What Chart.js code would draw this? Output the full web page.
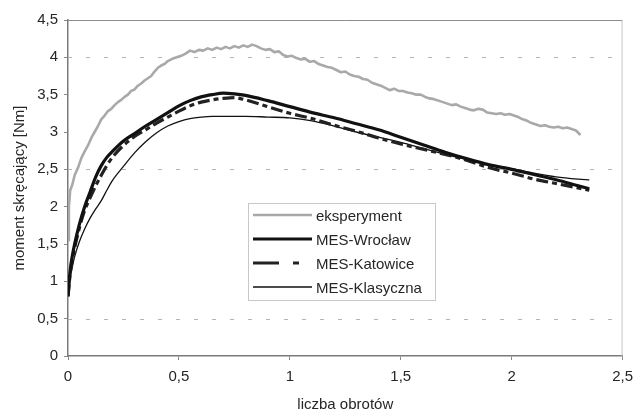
<!DOCTYPE html>
<html lang="pl">
<head>
<meta charset="utf-8">
<title>Moment skręcający</title>
<script src="https://cdn.jsdelivr.net/npm/chart.js@4/dist/chart.umd.min.js"></script>
<style>
  html, body { margin: 0; padding: 0; background: #ffffff; }
  #wrap { width: 641px; height: 414px; }
</style>
</head>
<body>
<div id="wrap"><canvas id="c" width="641" height="414"></canvas></div>
<script>
// Measured torque: number of revolutions vs. torque [Nm]
const eksperymentX = [0, 0.004, 0.01, 0.02, 0.03, 0.045, 0.06, 0.075, 0.09, 0.105, 0.12, 0.135, 0.15, 0.165, 0.18, 0.195,
  0.21, 0.225, 0.24, 0.255, 0.27, 0.285, 0.30, 0.315, 0.33, 0.345, 0.36, 0.375, 0.39, 0.405, 0.42, 0.435, 0.45, 0.47, 0.49,
  0.51, 0.53, 0.55, 0.57, 0.59, 0.61, 0.63, 0.65, 0.67, 0.69, 0.71, 0.73, 0.75, 0.77, 0.79, 0.81, 0.83, 0.85, 0.87, 0.89,
  0.91, 0.93, 0.95, 0.97, 0.99, 1.01, 1.03, 1.05, 1.07, 1.09, 1.11, 1.13, 1.15, 1.17, 1.19, 1.21, 1.23, 1.25, 1.27, 1.29,
  1.31, 1.33, 1.35, 1.37, 1.39, 1.41, 1.43, 1.45, 1.47, 1.49, 1.51, 1.53, 1.55, 1.57, 1.59, 1.61, 1.63, 1.65, 1.67, 1.69,
  1.71, 1.73, 1.75, 1.77, 1.79, 1.81, 1.83, 1.85, 1.87, 1.89, 1.91, 1.93, 1.95, 1.97, 1.99, 2.01, 2.03, 2.05, 2.07, 2.09,
  2.11, 2.13, 2.15, 2.17, 2.19, 2.21, 2.23, 2.25, 2.27, 2.29, 2.31];
const eksperymentY = [1.55, 2.0, 2.22, 2.3, 2.42, 2.52, 2.65, 2.74, 2.82, 2.92, 3.0, 3.08, 3.17, 3.22, 3.28, 3.31,
  3.36, 3.40, 3.43, 3.47, 3.5, 3.55, 3.57, 3.62, 3.65, 3.69, 3.72, 3.75, 3.81, 3.86, 3.89, 3.91, 3.95, 3.98, 4.0,
  4.02, 4.05, 4.09, 4.07, 4.1, 4.09, 4.12, 4.10, 4.13, 4.11, 4.14, 4.12, 4.15, 4.13, 4.16, 4.14, 4.17, 4.15, 4.12, 4.10,
  4.11, 4.07, 4.08, 4.03, 4.01, 4.02, 3.99, 3.97, 3.98, 3.94, 3.95, 3.91, 3.89, 3.87, 3.86, 3.83, 3.80, 3.81, 3.77, 3.75,
  3.74, 3.71, 3.70, 3.66, 3.64, 3.62, 3.59, 3.56, 3.58, 3.55, 3.55, 3.53, 3.52, 3.50, 3.50, 3.47, 3.45, 3.44, 3.42, 3.40,
  3.38, 3.36, 3.37, 3.34, 3.32, 3.30, 3.29, 3.31, 3.30, 3.26, 3.25, 3.24, 3.25, 3.23, 3.24, 3.22, 3.20, 3.17, 3.15, 3.12,
  3.10, 3.08, 3.09, 3.07, 3.06, 3.07, 3.05, 3.06, 3.04, 3.02, 2.96];

// FEM results share one revolution grid
const modelX = [0, 0.01, 0.02, 0.03, 0.05, 0.075, 0.1, 0.125, 0.15, 0.175, 0.2, 0.25, 0.3, 0.35, 0.4, 0.45, 0.5, 0.55,
  0.6, 0.65, 0.7, 0.75, 0.8, 0.9, 1.0, 1.1, 1.2, 1.3, 1.4, 1.5, 1.6, 1.7, 1.8, 1.9, 2.0, 2.1, 2.2, 2.3, 2.35];
const wroclawY = [0.8, 1.15, 1.35, 1.5, 1.75, 2.0, 2.2, 2.4, 2.55, 2.66, 2.74, 2.88, 2.98, 3.08, 3.17, 3.26, 3.35, 3.42,
  3.47, 3.50, 3.52, 3.51, 3.49, 3.42, 3.34, 3.26, 3.19, 3.11, 3.03, 2.93, 2.83, 2.73, 2.64, 2.56, 2.50, 2.43, 2.36, 2.28, 2.24];
const katowiceY = [0.8, 1.1, 1.3, 1.45, 1.7, 1.95, 2.12, 2.28, 2.42, 2.55, 2.66, 2.82, 2.94, 3.03, 3.12, 3.20, 3.28, 3.35,
  3.40, 3.43, 3.45, 3.46, 3.43, 3.34, 3.25, 3.18, 3.09, 3.01, 2.92, 2.84, 2.77, 2.70, 2.62, 2.52, 2.45, 2.37, 2.31, 2.25, 2.22];
const klasycznaY = [0.8, 1.05, 1.2, 1.33, 1.52, 1.7, 1.85, 1.97, 2.08, 2.22, 2.35, 2.54, 2.72, 2.87, 2.99, 3.08, 3.14, 3.18,
  3.20, 3.21, 3.21, 3.21, 3.21, 3.20, 3.19, 3.15, 3.08, 3.00, 2.93, 2.86, 2.78, 2.70, 2.63, 2.56, 2.51, 2.45, 2.40, 2.37, 2.36];

const seriesNames = ['eksperyment', 'MES-Wrocław', 'MES-Katowice', 'MES-Klasyczna'];
const xTickLabels = ['0', '0,5', '1', '1,5', '2', '2,5'];
const yTickLabels = ['0', '0,5', '1', '1,5', '2', '2,5', '3', '3,5', '4', '4,5'];
const gridValues = [0.5, 2.5, 4];

const FONT = "'Liberation Sans', Arial, sans-serif";
const TEXT = '#262626';

function pts(xs, ys) { return xs.map((x, i) => ({ x: x, y: ys[i] })); }

const styles = [
  { color: '#a9a9a9', width: 2.6, dash: [], legendDash: [] },
  { color: '#111111', width: 3.2, dash: [], legendDash: [] },
  { color: '#222222', width: 3.2, dash: [12, 4, 5, 4], legendDash: [26, 14, 6, 20] },
  { color: '#111111', width: 1.3, dash: [], legendDash: [] }
];

const seriesData = [
  pts(eksperymentX, eksperymentY),
  pts(modelX, wroclawY),
  pts(modelX, katowiceY),
  pts(modelX, klasycznaY)
];

// Dashed horizontal grid lines, outer frame and the legend box inside the plot
const decor = {
  id: 'decor',
  beforeDatasetsDraw(chart) {
    const { ctx, chartArea: a, scales } = chart;
    ctx.save();
    ctx.strokeStyle = '#b4b4b4';
    ctx.lineWidth = 1;
    ctx.setLineDash([4, 14]);
    gridValues.forEach(v => {
      const y = Math.round(scales.y.getPixelForValue(v)) + 0.5;
      ctx.beginPath(); ctx.moveTo(a.left, y); ctx.lineTo(a.right, y); ctx.stroke();
    });
    ctx.setLineDash([]);
    ctx.strokeStyle = '#8c8c8c';
    ctx.beginPath(); ctx.moveTo(a.left, a.top + 0.5); ctx.lineTo(a.right, a.top + 0.5); ctx.stroke();
    ctx.strokeStyle = '#c4c4c4';
    ctx.beginPath(); ctx.moveTo(a.right - 0.5, a.top); ctx.lineTo(a.right - 0.5, a.bottom); ctx.stroke();
    ctx.restore();
  },
  afterDatasetsDraw(chart) {
    const { ctx } = chart;
    const box = { x: 248, y: 203, w: 187, h: 97 };
    ctx.save();
    ctx.fillStyle = '#ffffff';
    ctx.fillRect(box.x, box.y, box.w, box.h);
    ctx.strokeStyle = '#c8c8c8';
    ctx.lineWidth = 1;
    ctx.strokeRect(box.x + 0.5, box.y + 0.5, box.w, box.h);
    ctx.font = '15px ' + FONT;
    ctx.textBaseline = 'middle';
    ctx.fillStyle = TEXT;
    seriesNames.forEach((name, i) => {
      const s = styles[i];
      const yy = 215 + i * 24;
      ctx.strokeStyle = s.color;
      ctx.lineWidth = s.width;
      ctx.setLineDash(s.legendDash);
      ctx.beginPath(); ctx.moveTo(253, yy); ctx.lineTo(312, yy); ctx.stroke();
      ctx.setLineDash([]);
      ctx.fillText(name, 316, yy + 2);
    });
    ctx.restore();
  }
};

new Chart(document.getElementById('c'), {
  type: 'line',
  data: {
    datasets: seriesNames.map((name, i) => ({
      label: name,
      data: seriesData[i],
      borderColor: styles[i].color,
      borderWidth: styles[i].width,
      borderDash: styles[i].dash,
      pointRadius: 0,
      fill: false,
      tension: i === 0 ? 0 : 0.35,
      cubicInterpolationMode: i === 0 ? 'default' : 'monotone',
      borderJoinStyle: 'round',
      borderCapStyle: 'butt'
    }))
  },
  options: {
    responsive: false,
    animation: false,
    devicePixelRatio: 1,
    layout: { padding: { left: 0, top: 20, right: 18, bottom: 0 } },
    plugins: { legend: { display: false }, tooltip: { enabled: false } },
    scales: {
      x: {
        type: 'linear',
        min: 0, max: 2.5,
        afterFit(scale) { scale.height = 58; },
        ticks: {
          stepSize: 0.5,
          padding: 8,
          color: TEXT,
          font: { family: FONT, size: 15 },
          maxRotation: 0,
          callback: (v, idx) => xTickLabels[idx]
        },
        grid: { drawOnChartArea: false, drawTicks: true, tickLength: 4, tickColor: '#8a8a8a' },
        border: { display: true, color: '#7a7a7a', width: 1.5 },
        title: {
          display: true, text: 'liczba obrotów', color: TEXT,
          font: { family: FONT, size: 15 }, padding: { top: 0, bottom: 0 }
        }
      },
      y: {
        min: 0, max: 4.5,
        afterFit(scale) { scale.width = 68; },
        ticks: {
          stepSize: 0.5,
          padding: 6,
          color: TEXT,
          font: { family: FONT, size: 15 },
          callback: (v, idx) => yTickLabels[idx]
        },
        grid: { drawOnChartArea: false, drawTicks: true, tickLength: 4, tickColor: '#8a8a8a' },
        border: { display: true, color: '#7a7a7a', width: 1.5 },
        title: {
          display: true, text: 'moment skręcający [Nm]', color: TEXT,
          font: { family: FONT, size: 15 }, padding: { top: 11, bottom: 0 }
        }
      }
    }
  },
  plugins: [decor]
});
</script>
</body>
</html>
